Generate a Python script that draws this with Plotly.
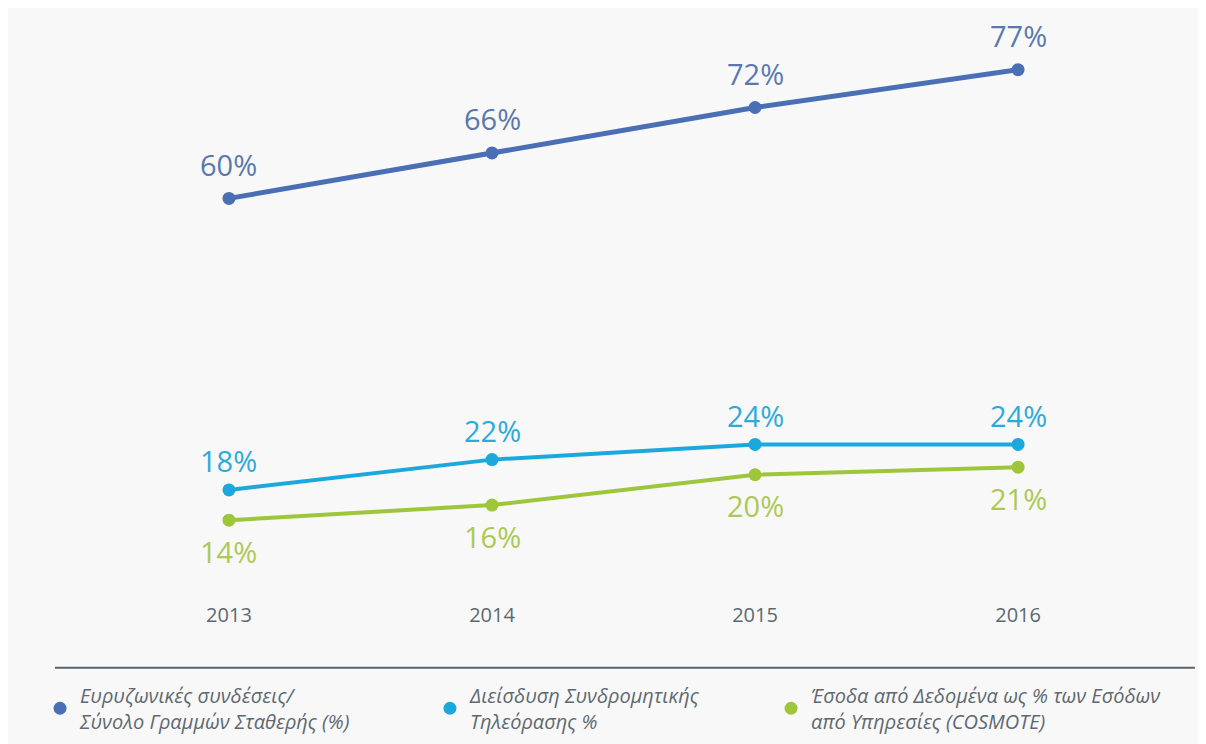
"""Line chart: broadband, pay-TV penetration and data revenue share, 2013-2016."""

import plotly.graph_objects as go

# ── Data ──────────────────────────────────────────────────────────────────────

years = [2013, 2014, 2015, 2016]
year_labels = ["2013", "2014", "2015", "2016"]

broadband = [60, 66, 72, 77]
paytv = [18, 22, 24, 24]
data_rev = [14, 16, 20, 21]

names = [
    "Ευρυζωνικές συνδέσεις/<br>Σύνολο Γραμμών Σταθερής (%)",
    "Διείσδυση Συνδρομητικής<br>Τηλεόρασης %",
    "Έσοδα από Δεδομένα ως % των Εσόδων<br>από Υπηρεσίες (COSMOTE)",
]

# ── Theme ─────────────────────────────────────────────────────────────────────

_BG = "#f8f8f8"
_FONT = "Open Sans"
_BLUE, _BLUE_TXT = "#4a6fb5", "#5a78ae"
_CYAN, _CYAN_TXT = "#1ba8dd", "#2eaad8"
_GREEN, _GREEN_TXT = "#9dc63b", "#acc955"
_GREY = "#5e6870"

series = [
    (broadband, names[0], _BLUE, _BLUE_TXT, "y2", 5, 34),
    (paytv, names[1], _CYAN, _CYAN_TXT, "y", 4, 29),
    (data_rev, names[2], _GREEN, _GREEN_TXT, "y", 4, -31),
]

fig = go.Figure()
annotations = []
legends = ["legend", "legend2", "legend3"]

for i, (vals, name, color, txt_color, yax, width, shift) in enumerate(series):
    fig.add_trace(go.Scatter(
        x=years, y=vals, yaxis=yax,
        mode="lines+markers",
        line=dict(color=color, width=width),
        marker=dict(color=color, size=13),
        showlegend=False,
        hoverinfo="skip",
    ))
    # legend key: dot only
    fig.add_trace(go.Scatter(
        x=[None], y=[None], mode="markers",
        marker=dict(color=color, size=13),
        name=name, legend=legends[i],
    ))
    for x, v in zip(years, vals):
        annotations.append(dict(
            x=x, y=v, xref="x", yref=yax, text=f"{v}%",
            showarrow=False, yshift=shift,
            font=dict(family=_FONT, size=29, color=txt_color),
        ))

legend_style = dict(
    orientation="h", xanchor="left", yanchor="top",
    bgcolor="rgba(0,0,0,0)", itemwidth=30,
    font=dict(family=_FONT, size=20, color=_GREY, style="italic"),
)

fig.update_layout(
    width=1206, height=744,
    paper_bgcolor=_BG, plot_bgcolor=_BG,
    margin=dict(l=40, r=11, t=20, b=153),
    xaxis=dict(
        range=[2012.312, 2016.703],
        tickvals=years, ticktext=year_labels,
        showgrid=False, zeroline=False, showline=False,
        ticklabelstandoff=4,
        tickfont=dict(family=_FONT, size=20, color=_GREY),
    ),
    yaxis=dict(range=[3.86, 78.99], visible=False),
    yaxis2=dict(range=[7.37, 82.5], visible=False, overlaying="y"),
    annotations=annotations,
    shapes=[dict(
        type="line", xref="paper", yref="paper",
        x0=0.006, x1=0.993, y0=-0.1243, y1=-0.1243,
        line=dict(color="#5a646c", width=2),
    )],
    legend=dict(x=-0.0069, y=-0.1384, **legend_style),
    legend2=dict(x=0.3307, y=-0.1384, **legend_style),
    legend3=dict(x=0.626, y=-0.1384, **legend_style),
    showlegend=True,
)

fig.write_html("out.html")
